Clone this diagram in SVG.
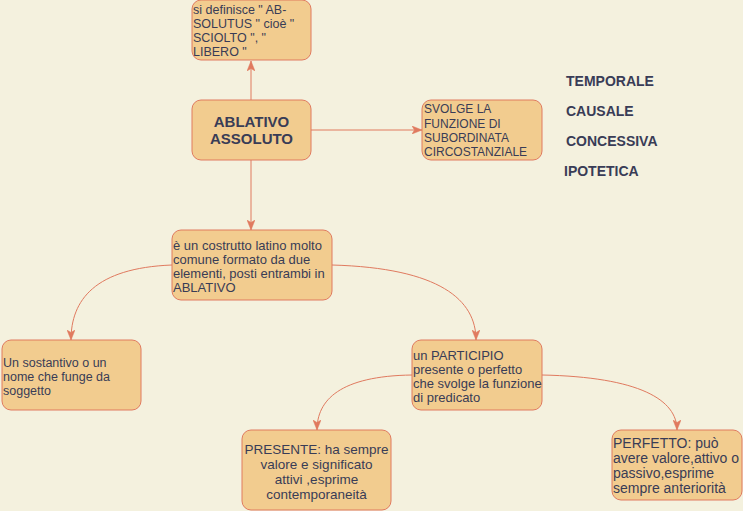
<svg xmlns="http://www.w3.org/2000/svg" width="743" height="511" viewBox="0 0 743 511">
<defs>
<style>
.box{fill:#F2CC8F;stroke:#E07A5F;stroke-width:1}
.t{font-family:"Liberation Sans",Arial,sans-serif;font-size:12px;fill:#393C56}
.c{text-anchor:middle}
.b{font-weight:bold}
.lab{font-size:14px}
.m{font-size:13px}
.edge{fill:none;stroke:#E07A5F;stroke-width:1}
</style>
<marker id="arr" viewBox="0 0 10 8" refX="10" refY="4" markerWidth="10" markerHeight="8" markerUnits="userSpaceOnUse" orient="auto">
<path d="M0,0 L10,4 L0,8 L2.5,4 z" fill="#E07A5F" stroke="#E07A5F" stroke-width="0.5"/>
</marker>
</defs>
<rect width="743" height="511" fill="#F4F1DE"/>
<g id="connectors">
<path class="edge" d="M251,100 L251,61" marker-end="url(#arr)"/>
<path class="edge" d="M311,130 L422,130" marker-end="url(#arr)"/>
<path class="edge" d="M251,160 L251,230" marker-end="url(#arr)"/>
<path class="edge" d="M172,265 C95,268 71,300 71,340" marker-end="url(#arr)"/>
<path class="edge" d="M332,265 C440,268 476,300 476,340" marker-end="url(#arr)"/>
<path class="edge" d="M412,375 C340,376 317,400 317,430" marker-end="url(#arr)"/>
<path class="edge" d="M542,375 C640,377 677,400 677,430" marker-end="url(#arr)"/>
</g>
<g id="n-definisce">
<rect class="box" x="192" y="0" width="119" height="60" rx="9"/>
<text class="t" x="193" y="14" style="font-size:12.5px">si definisce " AB-</text>
<text class="t" x="193" y="28" style="font-size:12.5px">SOLUTUS " cioè "</text>
<text class="t" x="193" y="42" style="font-size:12.5px">SCIOLTO ", "</text>
<text class="t" x="193" y="56" style="font-size:12.5px">LIBERO "</text>
</g>
<g id="n-ablativo">
<rect class="box" x="192" y="100" width="119" height="60" rx="9"/>
<text class="t c b" x="251.5" y="127" style="font-size:15px">ABLATIVO</text>
<text class="t c b" x="251.5" y="144" style="font-size:15px">ASSOLUTO</text>
</g>
<g id="n-svolge">
<rect class="box" x="422" y="100" width="120" height="60" rx="9"/>
<text class="t" x="424" y="113">SVOLGE LA</text>
<text class="t" x="424" y="128">FUNZIONE DI</text>
<text class="t" x="424" y="142">SUBORDINATA</text>
<text class="t" x="424" y="156">CIRCOSTANZIALE</text>
</g>
<g id="labels">
<text class="t b lab" x="566" y="86">TEMPORALE</text>
<text class="t b lab" x="566" y="116">CAUSALE</text>
<text class="t b lab" x="566" y="146">CONCESSIVA</text>
<text class="t b lab" x="564" y="176">IPOTETICA</text>
</g>
<g id="n-costrutto">
<rect class="box" x="172" y="230" width="160" height="70" rx="9"/>
<text class="t m" x="173" y="249.5">è un costrutto latino molto</text>
<text class="t m" x="173" y="263.5">comune formato da due</text>
<text class="t m" x="173" y="277.5">elementi, posti entrambi in</text>
<text class="t m" x="173" y="291.5">ABLATIVO</text>
</g>
<g id="n-sostantivo">
<rect class="box" x="2" y="340" width="139" height="70" rx="9"/>
<text class="t" x="3" y="366.5" style="font-size:12.5px">Un sostantivo o un</text>
<text class="t" x="3" y="380.5" style="font-size:12.5px">nome che funge da</text>
<text class="t" x="3" y="394.5" style="font-size:12.5px">soggetto</text>
</g>
<g id="n-participio">
<rect class="box" x="412" y="340" width="130" height="70" rx="9"/>
<text class="t m" x="413" y="359.5">un PARTICIPIO</text>
<text class="t m" x="413" y="373.5">presente o perfetto</text>
<text class="t m" x="413" y="387.5">che svolge la funzione</text>
<text class="t m" x="413" y="401.5">di predicato</text>
</g>
<g id="n-presente">
<rect class="box" x="242" y="430" width="149" height="80" rx="9"/>
<text class="t c" x="316.5" y="454" style="font-size:13.5px">PRESENTE: ha sempre</text>
<text class="t c" x="316.5" y="469" style="font-size:13.5px">valore e significato</text>
<text class="t c" x="316.5" y="484" style="font-size:13.5px">attivi ,esprime</text>
<text class="t c" x="316.5" y="499" style="font-size:13.5px">contemporaneità</text>
</g>
<g id="n-perfetto">
<rect class="box" x="612" y="430" width="130" height="70" rx="9"/>
<text class="t" x="613" y="448" style="font-size:14px">PERFETTO: può</text>
<text class="t" x="613" y="463" style="font-size:14px">avere valore,attivo o</text>
<text class="t" x="613" y="478" style="font-size:14px">passivo,esprime</text>
<text class="t" x="613" y="493" style="font-size:14px">sempre anteriorità</text>
</g>
</svg>
